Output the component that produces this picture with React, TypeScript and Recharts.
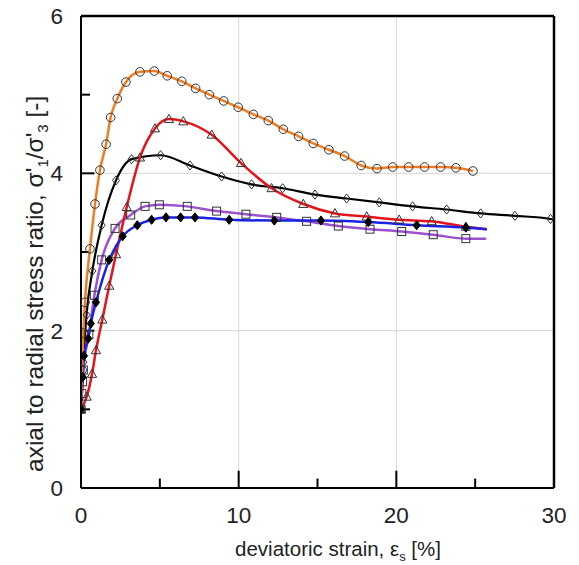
import React from "react";
import { ComposedChart, Line, XAxis, YAxis, ReferenceLine } from "recharts";

// orange circles
const xOrange = [0, 0.07, 0.15, 0.25, 0.57, 0.89, 1.2, 1.59, 1.88, 2.3, 2.85, 3.74, 4.65, 5.47, 6.39, 7.27, 8.14, 9.05, 9.97, 10.93, 11.88, 12.83, 13.8, 14.73, 15.72, 16.72, 17.77, 18.77, 19.77, 20.78, 21.79, 22.81, 23.78, 24.86];
const yOrange = [1.0, 1.5, 1.97, 2.36, 3.04, 3.61, 4.04, 4.37, 4.71, 4.95, 5.16, 5.29, 5.3, 5.24, 5.17, 5.08, 5.0, 4.92, 4.84, 4.75, 4.67, 4.56, 4.47, 4.38, 4.3, 4.22, 4.1, 4.06, 4.08, 4.08, 4.08, 4.08, 4.07, 4.03];
// red triangles (last value: line end, no marker)
const xRed = [0, 0.36, 0.7, 0.95, 1.35, 1.79, 2.22, 2.9, 3.74, 4.69, 5.58, 6.49, 8.29, 10.15, 12.09, 14.1, 16.11, 18.12, 20.18, 22.24, 24.41, 25.74];
const yRed = [1.0, 1.16, 1.45, 1.75, 2.14, 2.57, 2.97, 3.57, 4.2, 4.57, 4.69, 4.66, 4.49, 4.13, 3.81, 3.61, 3.49, 3.45, 3.41, 3.39, 3.32, 3.29];
// black diamonds
const xBlack = [0, 0.15, 0.35, 0.72, 1.31, 2.22, 3.21, 5.05, 6.91, 8.92, 10.82, 12.79, 14.84, 16.85, 18.92, 21.03, 23.19, 25.35, 27.52, 29.78, 30];
const yBlack = [1.0, 1.6, 2.2, 2.76, 3.34, 3.91, 4.18, 4.23, 4.1, 3.96, 3.86, 3.81, 3.73, 3.68, 3.63, 3.58, 3.54, 3.49, 3.46, 3.42, 3.41];
// purple squares
const xPurple = [0, 0.05, 0.1, 0.15, 0.5, 0.85, 1.31, 2.16, 3.15, 4.06, 4.97, 6.74, 8.6, 10.46, 12.41, 14.31, 16.32, 18.33, 20.34, 22.34, 24.41, 25.7];
const yPurple = [1.0, 1.2, 1.35, 1.5, 1.95, 2.45, 2.9, 3.3, 3.47, 3.58, 3.6, 3.58, 3.52, 3.48, 3.44, 3.39, 3.33, 3.29, 3.26, 3.22, 3.17, 3.17];
// blue line, filled diamonds
const xBlue = [0, 0.11, 0.19, 0.46, 0.62, 0.95, 1.79, 2.64, 3.57, 4.48, 5.39, 6.32, 7.23, 9.4, 12.26, 15.22, 18.22, 21.29, 24.41, 25.74];
const yBlue = [1.0, 1.41, 1.68, 1.9, 2.09, 2.36, 2.9, 3.2, 3.34, 3.41, 3.44, 3.44, 3.44, 3.41, 3.4, 3.4, 3.38, 3.34, 3.31, 3.29];

const xTicks = [0, 10, 20, 30];
const yTicks = [0, 2, 4, 6];
const xMinorTicks = [5, 15, 25];
const xMajorInner = [10, 20];
const yMinorTicks = [1, 3, 5];
const yMajorInner = [2, 4];

const build = (xs: number[], ys: number[], lastNoMarker: boolean) =>
  xs.map((x, i) => ({ x, y: ys[i], m: lastNoMarker && i === xs.length - 1 ? 0 : 1 }));

const orangeData = build(xOrange, yOrange, false);
const redData = build(xRed, yRed, true);
const blackData = build(xBlack, yBlack, true);
const purpleData = build(xPurple, yPurple, true);
const blueData = build(xBlue, yBlue, true);

const MS = "#333";
const makeDot = (shape: string) => (props: any) => {
  const { cx, cy, payload, index } = props;
  const key = `d${shape}${index}`;
  if (cx == null || cy == null || !payload || payload.m === 0) return <g key={key} />;
  if (shape === "circle")
    return <circle key={key} cx={cx} cy={cy} r={4.3} fill="none" stroke={MS} strokeWidth={1} />;
  if (shape === "triangle")
    return (
      <polygon key={key} points={`${cx},${cy - 4.8} ${cx - 4.6},${cy + 3.4} ${cx + 4.6},${cy + 3.4}`} fill="none" stroke={MS} strokeWidth={1} />
    );
  if (shape === "diamond")
    return (
      <polygon key={key} points={`${cx},${cy - 4.6} ${cx + 3.6},${cy} ${cx},${cy + 4.6} ${cx - 3.6},${cy}`} fill="none" stroke={MS} strokeWidth={1} />
    );
  if (shape === "square")
    return <rect key={key} x={cx - 4} y={cy - 4} width={8} height={8} fill="none" stroke={MS} strokeWidth={1} />;
  return (
    <polygon key={key} points={`${cx},${cy - 4.6} ${cx + 3.6},${cy} ${cx},${cy + 4.6} ${cx - 3.6},${cy}`} fill="#000" stroke="#000" strokeWidth={1} />
  );
};

const FONT = "'Liberation Sans', Arial, sans-serif";

const XTitle = () => (
  <text x={338} y={556} textAnchor="middle" fontFamily={FONT} fontSize={20.5} fill="#222">
    deviatoric strain, ε<tspan fontSize={13} dy={5}>s</tspan>
    <tspan dy={-5}> [%]</tspan>
  </text>
);

const YTitle = () => (
  <text
    x={0}
    y={0}
    transform="translate(43,472) rotate(-90)"
    textAnchor="start"
    fontFamily={FONT}
    fontSize={24.5}
    fill="#222"
  >
    axial to radial stress ratio, σ'<tspan fontSize={15} dy={5}>1</tspan>
    <tspan dy={-5}>/σ'</tspan>
    <tspan fontSize={15} dy={5}>3</tspan>
    <tspan dy={-5}> [-]</tspan>
  </text>
);

export default function App() {
  const tickStyle = { fontFamily: FONT, fontSize: 22.5, fill: "#222" };
  return (
    <div style={{ position: "absolute", left: 0, top: 0, width: 579, height: 565, background: "#fff" }}>
      <ComposedChart width={579} height={565} margin={{ top: 16, right: 25, bottom: 27, left: 21 }}>
        <XAxis
          type="number"
          dataKey="x"
          domain={[0, 30]}
          ticks={xTicks}
          allowDataOverflow
          tickLine={false}
          tickSize={0}
          tickMargin={19}
          height={50}
          axisLine={{ stroke: "#000", strokeWidth: 2 }}
          tick={tickStyle}
          label={{ content: () => <XTitle /> }}
        />
        <YAxis
          type="number"
          dataKey="y"
          domain={[0, 6]}
          ticks={yTicks}
          allowDataOverflow
          tickLine={false}
          tickSize={0}
          tickMargin={18}
          width={60}
          axisLine={{ stroke: "#000", strokeWidth: 2 }}
          tick={tickStyle}
          label={{ content: () => <YTitle /> }}
        />
        {xMajorInner.map((v) => (
          <ReferenceLine key={`gx${v}`} x={v} stroke="#d6d6d6" strokeWidth={1} />
        ))}
        {yMajorInner.map((v) => (
          <ReferenceLine key={`gy${v}`} y={v} stroke="#d6d6d6" strokeWidth={1} />
        ))}
        <ReferenceLine y={6} stroke="#000" strokeWidth={2.5} />
        <ReferenceLine x={30} stroke="#000" strokeWidth={2.5} />
        {xMinorTicks.map((v) => (
          <ReferenceLine key={`tx${v}`} segment={[{ x: v, y: 0 }, { x: v, y: 0.12 }]} stroke="#000" strokeWidth={2} />
        ))}
        {xMajorInner.map((v) => (
          <ReferenceLine key={`tX${v}`} segment={[{ x: v, y: 0 }, { x: v, y: 0.22 }]} stroke="#000" strokeWidth={2} />
        ))}
        {yMinorTicks.map((v) => (
          <ReferenceLine key={`ty${v}`} segment={[{ x: 0, y: v }, { x: 0.57, y: v }]} stroke="#000" strokeWidth={2} />
        ))}
        {yMajorInner.map((v) => (
          <ReferenceLine key={`tY${v}`} segment={[{ x: 0, y: v }, { x: 0.85, y: v }]} stroke="#000" strokeWidth={2} />
        ))}
        <Line data={blackData} dataKey="y" type="monotone" stroke="#000" strokeWidth={2.2} dot={makeDot("diamond")} isAnimationActive={false} />
        <Line data={purpleData} dataKey="y" type="monotone" stroke="#9b52cf" strokeWidth={2.5} dot={makeDot("square")} isAnimationActive={false} />
        <Line data={redData} dataKey="y" type="monotone" stroke="#e5131b" strokeWidth={2.5} dot={makeDot("triangle")} isAnimationActive={false} />
        <Line data={blueData} dataKey="y" type="monotone" stroke="#1a22e6" strokeWidth={2.5} dot={makeDot("filled")} isAnimationActive={false} />
        <Line data={orangeData} dataKey="y" type="monotone" stroke="#f07d22" strokeWidth={2.5} dot={makeDot("circle")} isAnimationActive={false} />
      </ComposedChart>
    </div>
  );
}
